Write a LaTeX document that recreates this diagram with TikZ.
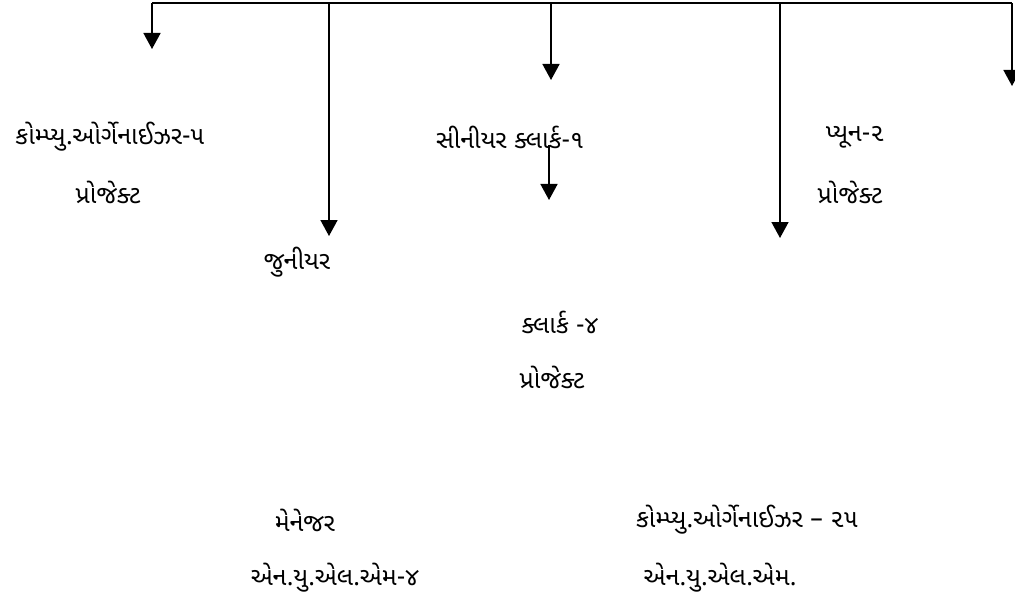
\documentclass[tikz,border=0pt]{standalone}
\usepackage{fontspec}
\newfontfamily\guj[Script=Gujarati]{Noto Sans Gujarati UI}
\usetikzlibrary{arrows.meta}
\tikzset{
  lbl/.style={inner sep=0pt, font=\guj\fontsize{25}{29}\selectfont},
  wire/.style={line width=1.6pt},
  arr/.style={wire, -{Triangle[width=17pt,length=16pt]}}
}
\begin{document}
\begin{tikzpicture}[x=1pt,y=-1pt]
\useasboundingbox (0,0) rectangle (1015,607);
% bus coordinates
\coordinate (b1) at (152,3);
\coordinate (b2) at (329,3);
\coordinate (b3) at (551,3);
\coordinate (b4) at (780,3);
\coordinate (b5) at (1012,3);
\coordinate (t1) at (152,49);
\coordinate (t2) at (329,236);
\coordinate (t3) at (551,80);
\coordinate (t4) at (780,238);
\coordinate (t5) at (1012,86);
\coordinate (s0) at (549,145);
\coordinate (s1) at (549,200);
\draw[wire] (b1) -- (b5);
\draw[arr] (b1) -- (t1);
\draw[arr] (b2) -- (t2);
\draw[arr] (b3) -- (t3);
\draw[arr] (b4) -- (t4);
\draw[arr] (b5) -- (t5);
\draw[arr] (s0) -- (s1);
% labels
\node[lbl] (n1) at (110,137) {કોમ્પ્યુ.ઓર્ગેનાઈઝર-૫};
\node[lbl] (n2) at (108,192) {પ્રોજેક્ટ};
\node[lbl] (n3) at (297,262) {જુનીયર};
\node[lbl] (n4) at (510,137) {સીનીયર ક્લાર્ક-૧};
\node[lbl] (n5) at (855,137) {પ્યૂન-૨};
\node[lbl] (n6) at (850,192) {પ્રોજેક્ટ};
\node[lbl] (n7) at (560,322) {ક્લાર્ક -૪};
\node[lbl] (n8) at (552,377) {પ્રોજેક્ટ};
\node[lbl] (n9) at (305,520) {મેનેજર};
\node[lbl] (n10) at (335,578) {એન.યુ.એલ.એમ-૪};
\node[lbl] (n11) at (747,520) {કોમ્પ્યુ.ઓર્ગેનાઈઝર – ૨૫};
\node[lbl] (n12) at (720,578) {એન.યુ.એલ.એમ.};
\end{tikzpicture}
\end{document}
